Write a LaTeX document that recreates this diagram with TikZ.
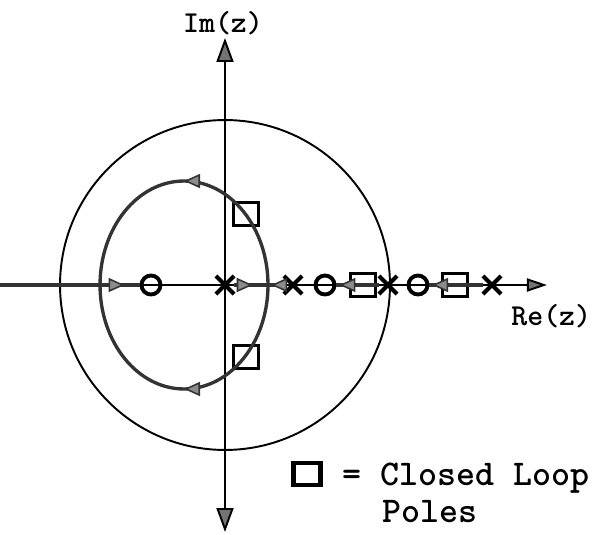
\documentclass[tikz,border=0pt]{standalone}
\usetikzlibrary{arrows.meta, shapes.misc, decorations.markings}

\begin{document}
\begin{tikzpicture}[
  x=0.02cm, y=0.02cm,
  font=\ttfamily,
  axis/.style={line width=1.1pt, draw=black},
  vtip/.style={{Triangle[length=0.48cm, width=0.34cm, fill=black!55]}-{Triangle[length=0.48cm, width=0.34cm, fill=black!55]}},
  htip/.style={-{Triangle[length=0.4cm, width=0.26cm, fill=black!55]}},
  locus/.style={line width=1.9pt, draw=black!80},
  midarr/.style={postaction={decorate}, decoration={markings, mark=at position #1 with {\arrow{Triangle[length=0.32cm, width=0.28cm, fill=black!45, line width=0.9pt]}}}},
  pole/.style={cross out, draw=black, line width=2.4pt, minimum size=0.28cm, inner sep=0pt},
  zero/.style={circle, draw=black, line width=2.2pt, minimum size=0.38cm, inner sep=0pt},
  clp/.style={rectangle, draw=black, line width=1.6pt, minimum width=0.5cm, minimum height=0.46cm, inner sep=0pt},
  axlabel/.style={font=\ttfamily\bfseries\fontsize{17.3}{20}\selectfont, inner sep=0pt},
  keytext/.style={font=\ttfamily\bfseries\fontsize{20.6}{24}\selectfont, inner sep=0pt},
]
\useasboundingbox (-225,-250) rectangle (375,285);

% Axes and unit circle
\coordinate (west) at (-225,0);
\coordinate (retip) at (322,0);
\coordinate (imtop) at (0,247);
\coordinate (imbot) at (0,-247);
\draw[axis] (0,0) circle[radius=3.3cm];
\draw[axis, vtip] (imbot) -- (imtop);
\draw[axis, htip] (west) -- (retip);
\node[axlabel, anchor=base] (imlab) at (-2,253) {Im(z)};
\node[axlabel, anchor=base west] (relab) at (286,-40) {Re(z)};

% Poles, zeros and closed loop poles
\node[pole] (p0) at (0,0) {};
\node[pole] (p1) at (68,0) {};
\node[pole] (p2) at (163,0) {};
\node[pole] (p3) at (267,0) {};
\node[zero] (z1) at (-74,0) {};
\node[zero] (z2) at (100,0) {};
\node[zero] (z3) at (193,0) {};
\node[clp] (c1) at (21,71) {};
\node[clp] (c2) at (21,-72) {};
\node[clp] (c3) at (138,0) {};
\node[clp] (c4) at (230,0) {};

% Root locus branches
\coordinate (bin) at (-125,0);
\coordinate (bout) at (43,0);
\draw[locus] (west) -- (bin);
\draw[locus, midarr=0.62] (bin) -- (z1);
\draw[locus, midarr=0.55] (p0) -- (bout);
\draw[locus, midarr=0.8] (p1) -- (bout);
\draw[locus, midarr=0.93] (p2) -- (z2);
\draw[locus, midarr=0.95] (p3) -- (z3);
\draw[locus, midarr=0.5] (bout) arc[start angle=0, end angle=180, x radius=1.68cm, y radius=2.08cm];
\draw[locus, midarr=0.5] (bout) arc[start angle=360, end angle=180, x radius=1.68cm, y radius=2.08cm];

% Legend
\node[clp, line width=2.8pt, minimum width=0.54cm, minimum height=0.44cm] (key) at (82,-189) {};
\node[keytext, anchor=base west] (keyline) at (117,-200) {= Closed Loop};
\node[keytext, anchor=base west] (keypoles) at (157,-237) {Poles};

\end{tikzpicture}
\end{document}
